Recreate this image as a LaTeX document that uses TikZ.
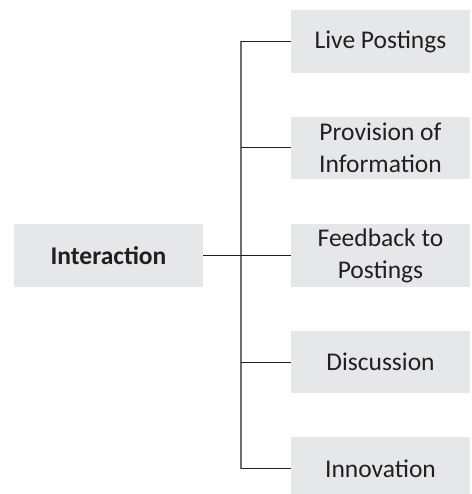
\documentclass[tikz,border=0pt]{standalone}
\usepackage{fontspec}
\setmainfont{Carlito}
\definecolor{boxfill}{HTML}{E6E7E8}
\definecolor{txt}{HTML}{231F20}
\definecolor{trunkc}{HTML}{6D6E71}
\begin{document}
\begin{tikzpicture}[x=1pt,y=-1pt,
  box/.style={fill=boxfill,draw=none,inner sep=0pt,align=center,text=txt,
    font=\fontsize{25.5}{32}\selectfont},
  rbox/.style={box,minimum width=179pt,minimum height=63pt},
  branch/.style={draw=txt,line width=1pt},
  trunk/.style={draw=trunkc,line width=1.3pt}]
\clip (0,0) rectangle (471,494);
\useasboundingbox (0,0) rectangle (471,494);
\node[box,minimum width=189pt,minimum height=63pt,font=\fontsize{25.5}{32}\selectfont\bfseries] (root) at (108.5,255.5) {Interaction};
\node[rbox] (live) at (380.5,41.5) {Live Postings};
\node[rbox,minimum height=62pt] (prov) at (380.5,148) {Provision of\\Information};
\node[rbox] (feed) at (380.5,255.5) {Feedback to\\Postings};
\node[rbox,minimum height=62pt] (disc) at (380.5,362) {Discussion};
\node[rbox] (inno) at (380.5,468.5) {Innovation};
\coordinate (tt) at (241,0);
\draw[trunk] (live.west -| tt) -- (inno.west -| tt);
\draw[branch] (root.east) -- (root.east -| tt);
\foreach \n in {live,prov,feed,disc,inno}
  \draw[branch] (\n.west -| tt) -- (\n.west);
\end{tikzpicture}
\end{document}
